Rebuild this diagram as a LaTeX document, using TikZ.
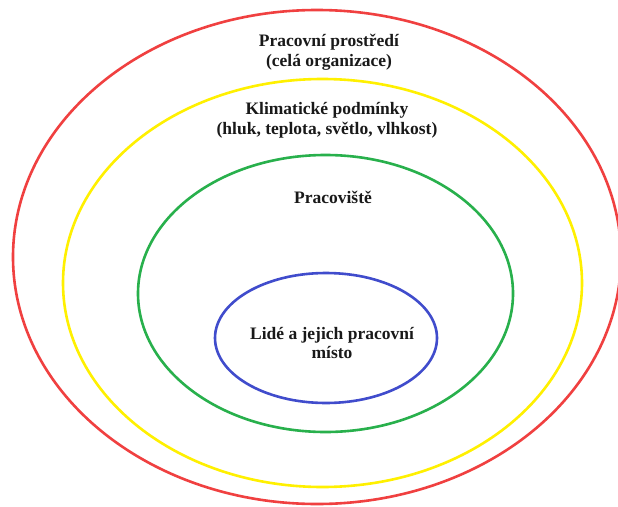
\documentclass[tikz,border=0pt]{standalone}
\usepackage{fontspec}
\setmainfont{Liberation Serif}
\definecolor{cred}{RGB}{240,64,64}
\definecolor{cyellow}{RGB}{255,240,0}
\definecolor{cgreen}{RGB}{40,176,76}
\definecolor{cblue}{RGB}{64,76,204}
\tikzset{
  ring/.style={line width=2.6pt},
  lbl/.style={align=center, inner sep=0pt, font=\fontsize{17.5}{20}\selectfont\bfseries, text=black!90}
}
\begin{document}
\begin{tikzpicture}[x=1pt,y=-1pt]
\useasboundingbox (0,0) rectangle (618,506);
\fill[white] (0,0) rectangle (618,506);
\draw[ring, cred] (317,257) ellipse [x radius=304, y radius=247];
\draw[ring, cyellow] (322.5,283) ellipse [x radius=259.5, y radius=204];
\draw[ring, cgreen] (325.5,293.5) ellipse [x radius=187.5, y radius=138.5];
\draw[ring, cblue] (326,338) ellipse [x radius=111, y radius=65];
\node[lbl] (env) at (329,52) {Pracovní prostředí\\(celá organizace)};
\node[lbl] (clim) at (327,120) {Klimatické podmínky\\(hluk, teplota, světlo, vlhkost)};
\node[lbl] (work) at (333,197) {Pracoviště};
\node[lbl] (ppl) at (332,343) {Lidé a jejich pracovní\\místo};
\end{tikzpicture}
\end{document}
